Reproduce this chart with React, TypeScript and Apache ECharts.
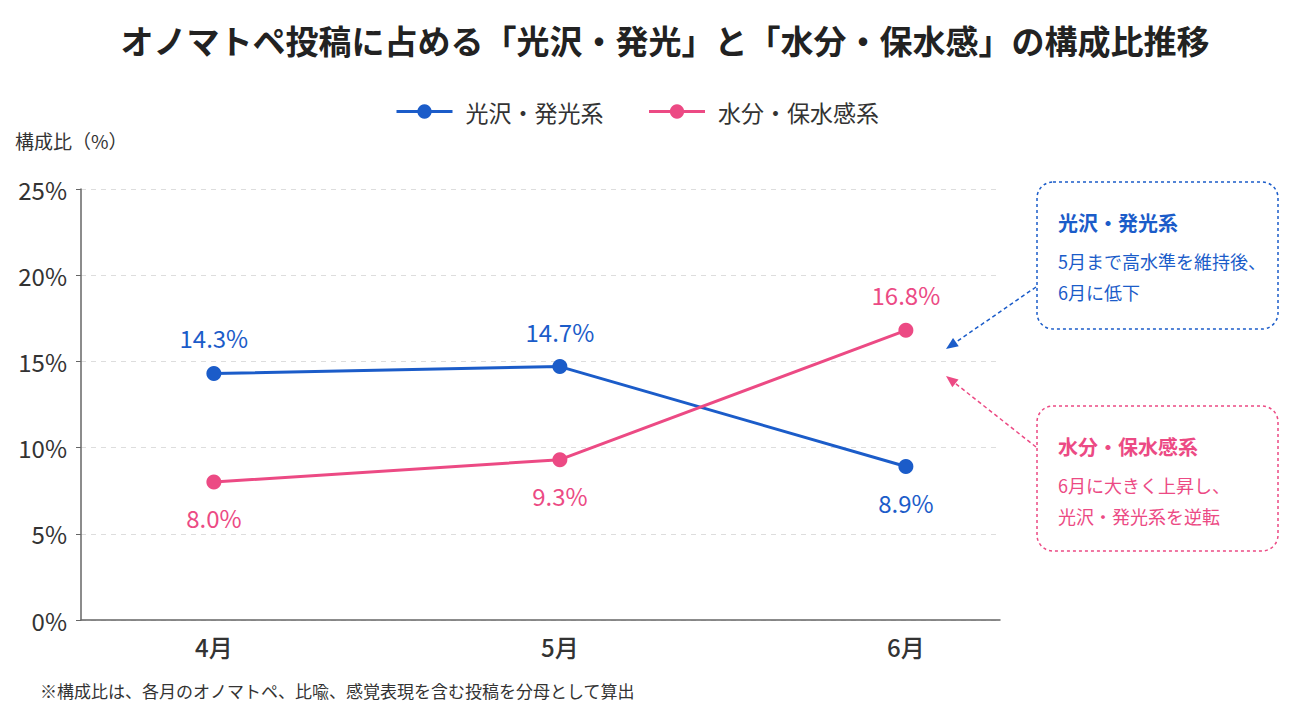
import { useEffect, useRef } from "react";
import * as echarts from "echarts";

// 月（横軸）
const months = ["4月", "5月", "6月"];
// 系列名
const seriesNames = ["光沢・発光系", "水分・保水感系"];
// 構成比（%）
const glossValues = [14.3, 14.7, 8.9];
const moistValues = [8.0, 9.3, 16.8];

const BLUE = "#1b5cc9";
const PINK = "#ec4a84";
const FONT = "'Noto Sans CJK JP', 'Noto Sans', sans-serif";

// 矢印（破線＋三角の頭）
function arrow(x1: number, y1: number, x2: number, y2: number, color: string) {
  const ang = Math.atan2(y2 - y1, x2 - x1);
  const len = 12;
  const half = 5;
  const bx = x2 - Math.cos(ang) * len;
  const by = y2 - Math.sin(ang) * len;
  const px = -Math.sin(ang) * half;
  const py = Math.cos(ang) * half;
  return [
    {
      type: "line",
      shape: { x1, y1, x2: bx, y2: by },
      style: { stroke: color, lineWidth: 1.5, lineDash: [4, 3] },
    },
    {
      type: "polygon",
      shape: { points: [[x2, y2], [bx + px, by + py], [bx - px, by - py]] },
      style: { fill: color },
    },
  ];
}

function note(y: number, h: number, color: string, head: string, lines: string[]) {
  const els: any[] = [
    {
      type: "rect",
      shape: { x: 1037, y, width: 241, height: h, r: 16 },
      style: { fill: "#fff", stroke: color, lineWidth: 1.5, lineDash: [3, 3] },
    },
    {
      type: "text",
      x: 1058,
      y: y + 40,
      style: {
        text: head,
        fill: color,
        font: `bold 20px ${FONT}`,
        verticalAlign: "middle",
      },
    },
  ];
  lines.forEach((t, i) => {
    els.push({
      type: "text",
      x: 1058,
      y: y + 79 + i * 31,
      style: { text: t, fill: color, font: `18px ${FONT}`, verticalAlign: "middle" },
    });
  });
  return els;
}

function makeSeries(name: string, values: number[], other: number[], color: string) {
  return {
    name,
    type: "line",
    symbol: "circle",
    symbolSize: 15,
    lineStyle: { width: 3, color },
    itemStyle: { color },
    label: {
      show: true,
      color,
      fontSize: 24,
      fontFamily: FONT,
      distance: 16,
      formatter: (p: any) => p.value[1].toFixed(1) + "%",
    },
    data: values.map((v, i) => ({
      value: [i, v],
      label: { position: v >= other[i] ? "top" : "bottom" },
    })),
  };
}

export default function App() {
  const ref = useRef<HTMLDivElement>(null);

  useEffect(() => {
    const chart = echarts.init(ref.current, null, { renderer: "svg" });
    chart.setOption({
      animation: false,
      backgroundColor: "#fff",
      textStyle: { fontFamily: FONT },
      title: {
        text: "オノマトペ投稿に占める「光沢・発光」と「水分・保水感」の構成比推移",
        left: 660,
        textAlign: "center",
        top: 18,
        textStyle: { fontSize: 33, fontWeight: "bold", color: "#222", fontFamily: FONT },
      },
      legend: {
        data: seriesNames,
        left: 390,
        top: 95,
        itemWidth: 56,
        itemHeight: 18,
        itemGap: 44,
        itemStyle: { borderWidth: 0 },
        lineStyle: { width: 3 },
        textStyle: {
          fontSize: 23,
          color: "#333",
          fontFamily: FONT,
          padding: [0, 0, 0, 8],
        },
      },
      grid: { left: 81, right: 298, top: 189, bottom: 92, containLabel: false },
      xAxis: {
        type: "value",
        min: -0.384,
        max: 2.272,
        axisLine: { show: true, lineStyle: { color: "#666", width: 1.5 } },
        axisTick: { show: false },
        splitLine: { show: false },
        axisLabel: {
          customValues: months.map((_, i) => i),
          formatter: (v: number) => months[Math.round(v)],
          fontSize: 24,
          fontWeight: 500,
          color: "#333",
          margin: 14,
          fontFamily: FONT,
        },
      },
      yAxis: {
        type: "value",
        min: 0,
        max: 25,
        interval: 5,
        axisLine: { show: true, onZero: false, lineStyle: { color: "#666", width: 1.5 } },
        axisTick: { show: true, length: 5, lineStyle: { color: "#666" } },
        splitLine: { lineStyle: { color: "#ddd", type: [5, 5] } },
        axisLabel: {
          formatter: "{value}%",
          fontSize: 24,
          color: "#333",
          margin: 14,
          fontFamily: FONT,
        },
      },
      series: [
        makeSeries(seriesNames[0], glossValues, moistValues, BLUE),
        makeSeries(seriesNames[1], moistValues, glossValues, PINK),
      ],
      graphic: [
        {
          type: "text",
          x: 15,
          y: 140,
          style: { text: "構成比（%）", fill: "#333", font: `19px ${FONT}`, verticalAlign: "middle" },
        },
        {
          type: "text",
          x: 40,
          y: 690,
          style: {
            text: "※構成比は、各月のオノマトペ、比喩、感覚表現を含む投稿を分母として算出",
            fill: "#333",
            font: `17px ${FONT}`,
            verticalAlign: "middle",
          },
        },
        ...arrow(1036, 287, 946, 349, BLUE),
        ...arrow(1036, 447, 946, 376, PINK),
        ...note(182, 147, BLUE, seriesNames[0], ["5月まで高水準を維持後、", "6月に低下"]),
        ...note(406, 145, PINK, seriesNames[1], ["6月に大きく上昇し、", "光沢・発光系を逆転"]),
      ],
    });
    return () => chart.dispose();
  }, []);

  return (
    <div
      ref={ref}
      style={{ position: "fixed", left: 0, top: 0, width: 1298, height: 712 }}
    />
  );
}
